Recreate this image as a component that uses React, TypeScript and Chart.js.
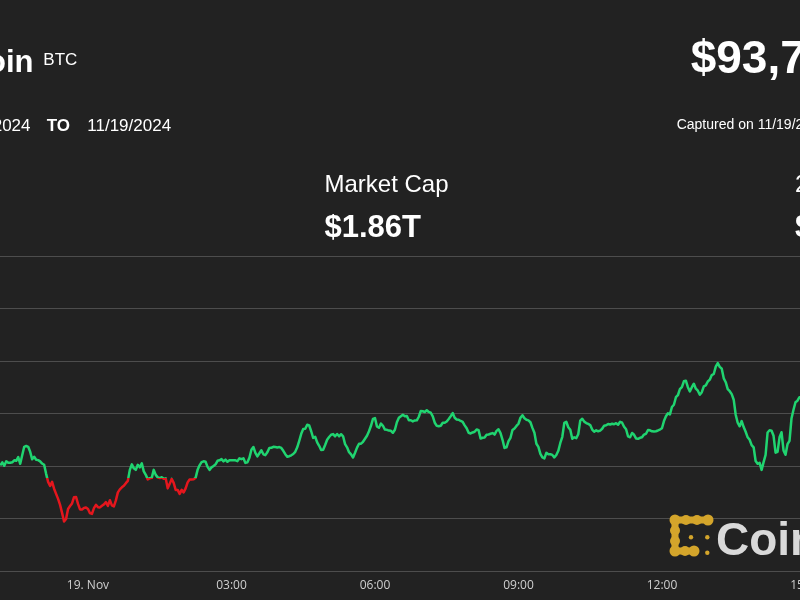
import { useEffect, useRef } from "react";
import { Chart, registerables } from "chart.js";

Chart.register(...registerables);

// BTC price, 2.5-minute samples, starting 18 Nov 22:10 (minutes relative to 19 Nov 00:00)
const START_MINUTE = -110;
const STEP_MINUTES = 2.5;
const PRICES = [
  92019, 92076, 92010, 92095, 92067, 92067, 92076, 92114, 92105, 92175,
  92048, 92210, 92371, 92387, 92371, 92276, 92133, 92181, 92124, 92118,
  92095, 92053, 92029, 91857, 91705, 91629, 91705, 91575, 91476, 91381,
  91267, 91114, 90952, 91000, 91190, 91244, 91295, 91413, 91419, 91286,
  91181, 91181, 91209, 91219, 91190, 91109, 91095, 91204, 91267, 91223,
  91219, 91251, 91276, 91318, 91248, 91356, 91257, 91238, 91352, 91505,
  91562, 91600, 91629, 91680, 91724, 91933, 92038, 91962, 91933, 92029,
  91981, 92057, 91905, 91838, 91752, 91775, 91781, 91933, 91838, 91790,
  91777, 91792, 91762, 91771, 91581, 91667, 91762, 91686, 91552, 91552,
  91476, 91552, 91505, 91581, 91695, 91750, 91749, 91752, 91781, 91933,
  92019, 92080, 92095, 92086, 91990, 91933, 91981, 92006, 92038, 92105,
  92114, 92137, 92095, 92128, 92086, 92114, 92114, 92116, 92114, 92099,
  92152, 92137, 92152, 92065, 92076, 92162, 92314, 92368, 92257, 92190,
  92248, 92305, 92229, 92213, 92267, 92349, 92352, 92371, 92368, 92360,
  92366, 92349, 92295, 92232, 92181, 92192, 92210, 92234, 92276, 92362,
  92486, 92619, 92709, 92714, 92791, 92777, 92667, 92541, 92562, 92457,
  92390, 92310, 92314, 92406, 92505, 92558, 92600, 92613, 92571, 92615,
  92571, 92611, 92571, 92423, 92362, 92269, 92229, 92168, 92257, 92356,
  92429, 92430, 92467, 92524, 92581, 92667, 92771, 92901, 92918, 92758,
  92733, 92813, 92771, 92699, 92695, 92680, 92676, 92638, 92695, 92838,
  92924, 92954, 92981, 92952, 92956, 92876, 92876, 92855, 92872, 92874,
  92943, 93053, 93048, 93034, 93067, 93034, 93019, 92949, 92829, 92770,
  92762, 92771, 92829, 92829, 92853, 92901, 92952, 93013, 92924, 92891,
  92886, 92863, 92844, 92779, 92724, 92638, 92625, 92644, 92657, 92701,
  92686, 92528, 92543, 92549, 92600, 92606, 92619, 92632, 92604, 92674,
  92705, 92632, 92505, 92350, 92362, 92480, 92543, 92690, 92720, 92768,
  92810, 92924, 92971, 92914, 92886, 92874, 92838, 92731, 92638, 92430,
  92371, 92238, 92171, 92152, 92257, 92229, 92229, 92217, 92171, 92215,
  92295, 92444, 92562, 92827, 92848, 92743, 92695, 92524, 92552, 92537,
  92610, 92870, 92905, 92850, 92823, 92806, 92785, 92699, 92657, 92686,
  92667, 92680, 92714, 92773, 92781, 92806, 92796, 92810, 92800, 92821,
  92791, 92848, 92829, 92752, 92705, 92568, 92552, 92634, 92600, 92531,
  92524, 92543, 92552, 92604, 92619, 92691, 92686, 92667, 92663, 92667,
  92682, 92699, 92724, 92861, 92952, 93010, 92987, 93128, 93171, 93314,
  93352, 93467, 93505, 93617, 93629, 93505, 93425, 93505, 93571, 93476,
  93438, 93362, 93410, 93522, 93539, 93613, 93648, 93735, 93756, 93895,
  93962, 93893, 93857, 93674, 93600, 93467, 93429, 93373, 93267, 92981,
  92829, 92762, 92861, 92747, 92657, 92552, 92505, 92404, 92362, 92101,
  92048, 92067, 91933, 92080, 92219, 92644, 92686, 92678, 92581, 92259,
  92276, 92552, 92648, 92303, 92219, 92421, 92486, 92911, 93076, 93219,
  93248, 93314, 93305,
];
const TIMES = PRICES.map((_, i) => START_MINUTE + i * STEP_MINUTES);
const OPEN_PRICE = 91770;

const TICK_MINUTES = [-180, 0, 180, 360, 540, 720, 900];
const TICK_LABELS = ["21:00", "19. Nov", "03:00", "06:00", "09:00", "12:00", "15:00"];

const Y_MIN = 90000;
const Y_MAX = 96000;
const Y_STEP = 1000;
const X_MIN = -235.8;
const X_MAX = 1018.6;

const GREEN = "#20d470";
const RED = "#e5161d";
const BG = "#222222";
const GRID = "#4d4d4d";

const FONT = "'Liberation Sans', Arial, Helvetica, sans-serif";

export default function App() {
  const canvasRef = useRef<HTMLCanvasElement | null>(null);

  useEffect(() => {
    const canvas = canvasRef.current;
    if (!canvas) return;
    const chart = new Chart(canvas, {
      type: "line",
      data: {
        datasets: [
          {
            data: TIMES.map((t, i) => ({ x: t, y: PRICES[i] })),
            borderWidth: 2.5,
            pointRadius: 0,
            tension: 0,
            fill: false,
            borderJoinStyle: "round",
            borderColor: (ctx: any) => {
              const c = ctx.chart;
              const area = c.chartArea;
              if (!area) return GREEN;
              const yPix = c.scales.y.getPixelForValue(OPEN_PRICE);
              const t = Math.min(1, Math.max(0, (yPix - area.top) / (area.bottom - area.top)));
              const g = c.ctx.createLinearGradient(0, area.top, 0, area.bottom);
              g.addColorStop(0, GREEN);
              g.addColorStop(t, GREEN);
              g.addColorStop(t, RED);
              g.addColorStop(1, RED);
              return g;
            },
          },
        ],
      },
      options: {
        responsive: false,
        animation: false,
        layout: { padding: { top: 256, bottom: 0, left: 0, right: 0 } },
        plugins: { legend: { display: false }, tooltip: { enabled: false } },
        scales: {
          x: {
            type: "linear",
            min: X_MIN,
            max: X_MAX,
            grid: { display: false, drawTicks: false },
            border: { display: false },
            afterBuildTicks: (s: any) => {
              s.ticks = TICK_MINUTES.map((v) => ({ value: v }));
            },
            afterFit: (s: any) => {
              s.height = 28.5;
            },
            ticks: {
              autoSkip: false,
              maxRotation: 0,
              padding: 7,
              color: "#cfcfcf",
              font: { family: "'Open Sans', sans-serif", size: 12 },
              callback: (v: any) => {
                const idx = TICK_MINUTES.indexOf(Number(v));
                return idx >= 0 ? TICK_LABELS[idx] : "";
              },
            },
          },
          y: {
            type: "linear",
            position: "right",
            min: Y_MIN,
            max: Y_MAX,
            grid: { color: GRID, lineWidth: 1, drawTicks: false },
            border: { display: false },
            ticks: { display: false, stepSize: Y_STEP },
            afterFit: (s: any) => {
              s.width = 0;
            },
          },
        },
      },
    });
    return () => chart.destroy();
  }, []);

  return (
    <div
      style={{
        position: "fixed",
        left: 0,
        top: 0,
        width: 800,
        height: 600,
        overflow: "hidden",
        background: BG,
      }}
    >
      <canvas
        ref={canvasRef}
        width={1000}
        height={600}
        style={{ position: "absolute", left: -100, top: 0, width: 1000, height: 600 }}
      />
      <svg
        width={800}
        height={600}
        style={{ position: "absolute", left: 0, top: 0 }}
        fontFamily={FONT}
      >
        <text x={33.5} y={71.7} textAnchor="end" fill="#ffffff" fontSize={31} fontWeight="bold">
          Bitcoin
        </text>
        <text x={43.3} y={65.3} fill="#ffffff" fontSize={17}>
          BTC
        </text>
        <text x={30.5} y={130.7} textAnchor="end" fill="#ffffff" fontSize={17}>
          11/18/2024
        </text>
        <text x={46.7} y={130.7} fill="#ffffff" fontSize={17} fontWeight="bold">
          TO
        </text>
        <text x={87.3} y={130.7} fill="#ffffff" fontSize={17}>
          11/19/2024
        </text>
        <text x={690.7} y={73.3} fill="#ffffff" fontSize={46} fontWeight="bold">
          $93,742.58
        </text>
        <text x={676.7} y={129} fill="#ffffff" fontSize={14}>
          Captured on 11/19/2024
        </text>
        <text x={324.5} y={192.3} fill="#ffffff" fontSize={24}>
          Market Cap
        </text>
        <text x={324.5} y={237.3} fill="#ffffff" fontSize={31} fontWeight="bold">
          $1.86T
        </text>
        <text x={795} y={192.3} fill="#ffffff" fontSize={24}>
          24h Volume
        </text>
        <text x={795} y={237.3} fill="#ffffff" fontSize={31} fontWeight="bold">
          $98.6B
        </text>
        {/* CoinDesk watermark */}
        <g fill="#d4a52b" stroke="#d4a52b">
          <path
            d="M 708 520 L 675 520 L 675 551 L 694 551"
            fill="none"
            strokeWidth={7}
            strokeLinecap="round"
            strokeLinejoin="round"
          />
          <circle cx={675} cy={520} r={5.5} stroke="none" />
          <circle cx={686} cy={520} r={5} stroke="none" />
          <circle cx={697} cy={520} r={5} stroke="none" />
          <circle cx={708} cy={520} r={5.5} stroke="none" />
          <circle cx={675} cy={530.5} r={5} stroke="none" />
          <circle cx={675} cy={541} r={5} stroke="none" />
          <circle cx={675} cy={551} r={5.5} stroke="none" />
          <circle cx={685} cy={551} r={5} stroke="none" />
          <circle cx={694} cy={551} r={5.5} stroke="none" />
          <circle cx={691} cy={537.3} r={2.2} stroke="none" />
          <circle cx={707.3} cy={537.3} r={2.2} stroke="none" />
          <circle cx={707.3} cy={552.7} r={2.2} stroke="none" />
        </g>
        <text x={716} y={555} fill="#d9d9d9" fontSize={46} fontWeight="bold">
          CoinDesk
        </text>
      </svg>
    </div>
  );
}
